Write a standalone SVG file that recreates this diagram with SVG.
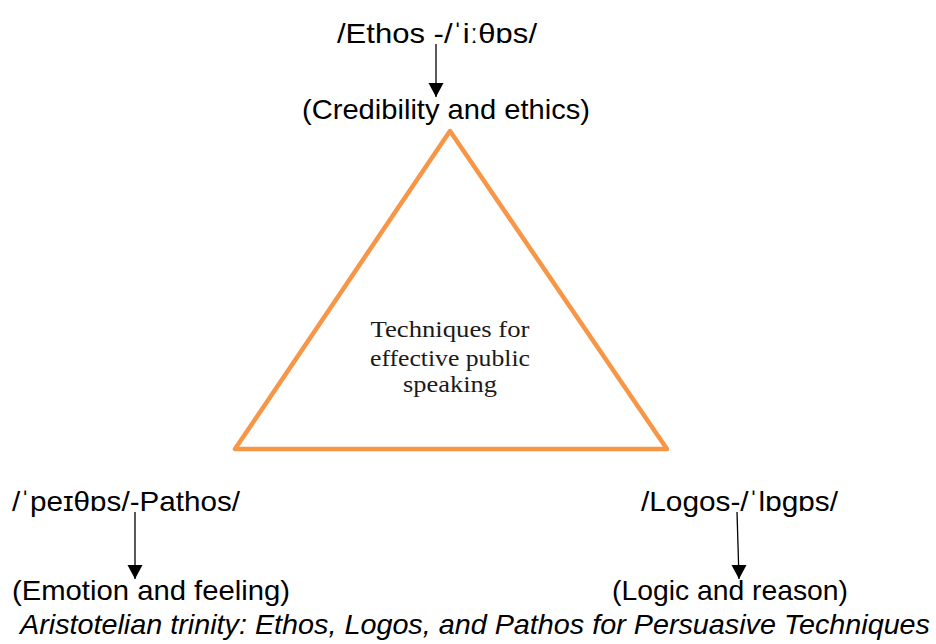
<svg xmlns="http://www.w3.org/2000/svg" width="936" height="644" viewBox="0 0 936 644">
<style>
.lbl{font-family:"Liberation Sans",Arial,sans-serif;font-size:28.5px;fill:#000}
.cap{font-family:"Liberation Sans",Arial,sans-serif;font-size:28px;font-style:italic;fill:#000}
.ctr{font-family:"Liberation Serif","Times New Roman",serif;font-size:22.5px;fill:#1a1a1a;text-anchor:middle}
.conn{stroke:#000;stroke-width:1.3;fill:none}
.head{fill:#000}
</style>
<rect width="936" height="644" fill="#fff"/>
<g id="triangle">
<polygon points="450,131 235,449 667,449" fill="none" stroke="#F79646" stroke-width="4.5" stroke-linejoin="round"/>
<text class="ctr" x="450" y="337" textLength="159" lengthAdjust="spacingAndGlyphs">Techniques for</text>
<text class="ctr" x="450" y="366" textLength="160" lengthAdjust="spacingAndGlyphs">effective public</text>
<text class="ctr" x="450" y="392" textLength="94" lengthAdjust="spacingAndGlyphs">speaking</text>
</g>
<g id="ethos">
<text class="lbl" x="337" y="43" textLength="200" lengthAdjust="spacingAndGlyphs">/Ethos -/ˈiːθɒs/</text>
<text class="lbl" x="302" y="119" textLength="288" lengthAdjust="spacingAndGlyphs">(Credibility and ethics)</text>
</g>
<g id="pathos">
<text class="lbl" x="12" y="511" textLength="228" lengthAdjust="spacingAndGlyphs">/ˈpeɪθɒs/-Pathos/</text>
<text class="lbl" x="12" y="600" textLength="278" lengthAdjust="spacingAndGlyphs">(Emotion and feeling)</text>
</g>
<g id="logos">
<text class="lbl" x="641" y="511" textLength="197" lengthAdjust="spacingAndGlyphs">/Logos-/ˈlɒgɒs/</text>
<text class="lbl" x="612" y="600" textLength="236" lengthAdjust="spacingAndGlyphs">(Logic and reason)</text>
</g>
<g id="caption">
<text class="cap" x="20" y="634" textLength="910" lengthAdjust="spacingAndGlyphs">Aristotelian trinity: Ethos, Logos, and Pathos for Persuasive Techniques</text>
</g>
<g id="connectors">
<line class="conn" x1="436" y1="44" x2="436" y2="97"/>
<polygon class="head" points="428.5,83 443.5,83 436,97"/>
<line class="conn" x1="135" y1="512" x2="135" y2="579"/>
<polygon class="head" points="127.5,565 142.5,565 135,579"/>
<line class="conn" x1="737" y1="512" x2="739" y2="579"/>
<polygon class="head" points="731.5,565 746.5,565 739,579"/>
</g>
</svg>
